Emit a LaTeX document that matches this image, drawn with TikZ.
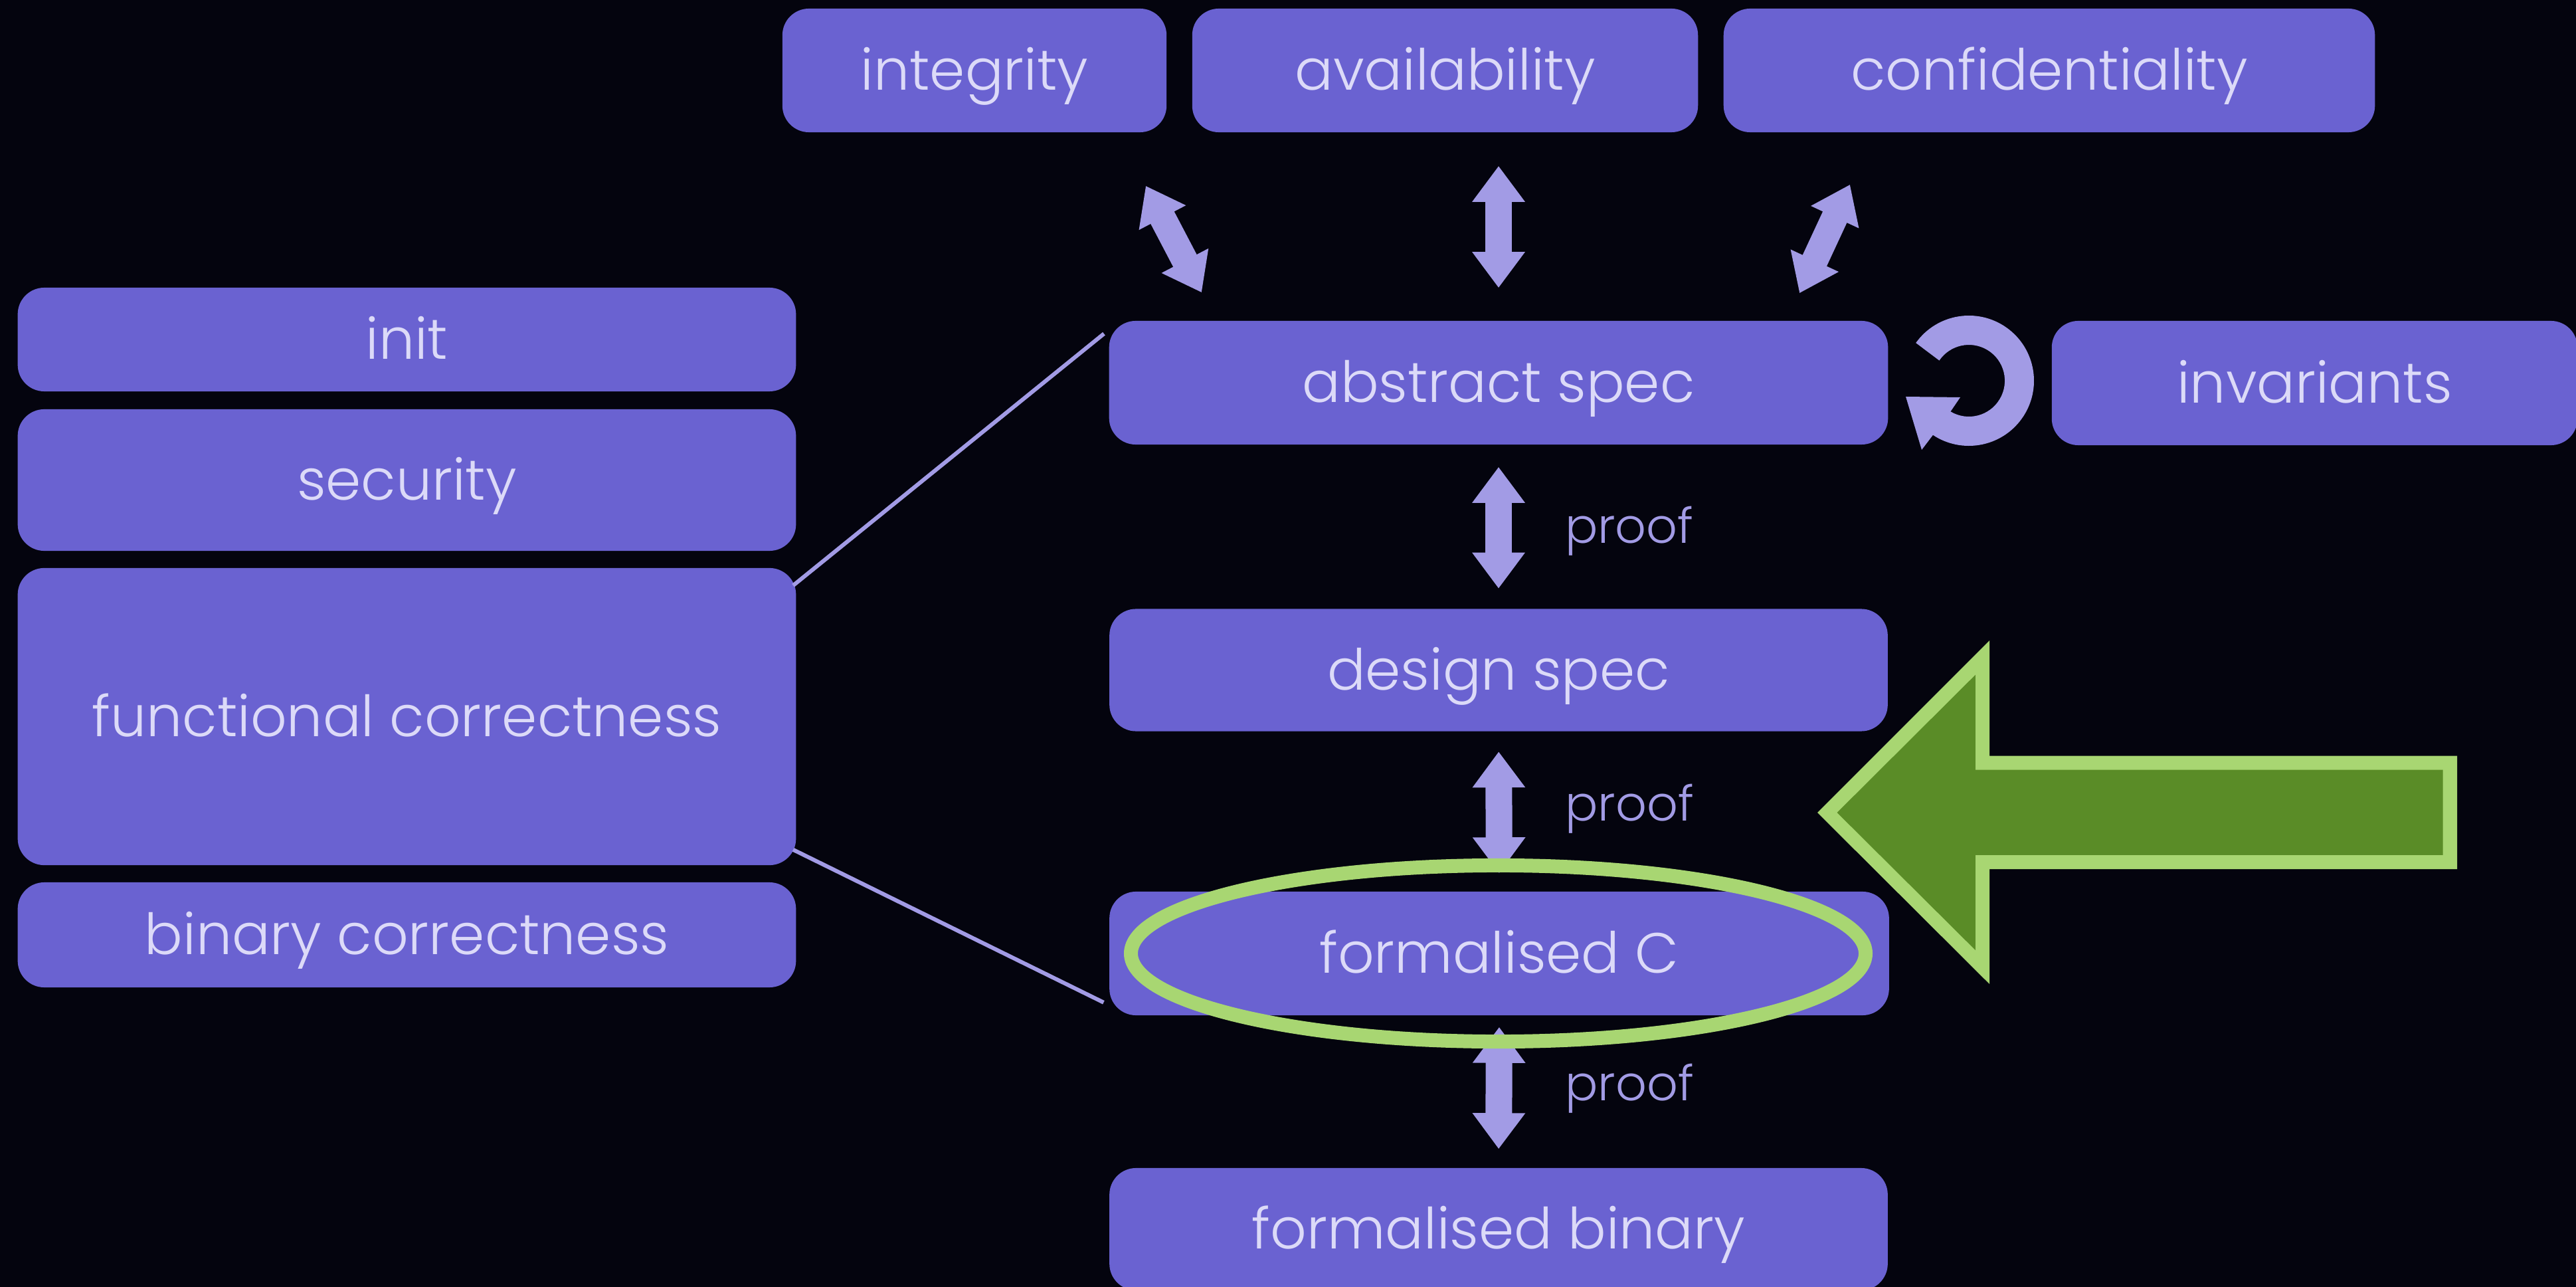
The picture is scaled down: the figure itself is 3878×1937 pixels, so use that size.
\documentclass[tikz,border=0pt]{standalone}
\usepackage{fontspec}
\IfFontExistsTF{Poppins Light}{\setmainfont{Poppins Light}}{\setmainfont{Poppins}}
\usetikzlibrary{arrows.meta,calc,shapes.geometric}
\definecolor{bg}{HTML}{04040E}
\definecolor{boxfill}{HTML}{6A62D1}
\definecolor{boxtext}{HTML}{DCDAF8}
\definecolor{lav}{HTML}{A29BE5}
\definecolor{gdark}{HTML}{5A8C27}
\definecolor{glight}{HTML}{A8D672}
\begin{document}
\begin{tikzpicture}[x=0.01cm,y=-0.01cm,
  box/.style={fill=boxfill, rounded corners=0.4cm, inner sep=0pt, text=boxtext,
    font=\fontsize{24.3}{28}\selectfont, text height=17pt, text depth=0pt},
  dbl/.style={draw=lav, line width=0.40cm,
    {Triangle[length=0.54cm,width=0.76cm]}-{Triangle[length=0.54cm,width=0.76cm]}},
  prooflabel/.style={text=lav, font=\fontsize{20.8}{24}\selectfont, inner sep=0pt, anchor=base west},
  thinline/.style={draw=lav, line width=0.06cm},
  ring/.style={draw=glight, line width=0.21cm}]
\useasboundingbox (0,0) rectangle (3878,1937);
\fill[bg] (0,0) rectangle (3878,1937);

% top row
\node[box, minimum width=5.78cm, minimum height=1.86cm] (integ) at (1467,106) {integrity};
\node[box, minimum width=7.61cm, minimum height=1.86cm] (avail) at (2175.5,106) {availability};
\node[box, minimum width=9.80cm, minimum height=1.86cm] (conf) at (3085,106) {confidentiality};

% left column
\node[box, minimum width=11.71cm, minimum height=1.56cm] (init) at (612.5,511) {init};
\node[box, minimum width=11.71cm, minimum height=2.13cm] (sec) at (612.5,722.5) {security};
\node[box, minimum width=11.71cm, minimum height=4.47cm] (fc) at (612.5,1078.5) {functional correctness};
\node[box, minimum width=11.71cm, minimum height=1.58cm] (bc) at (612.5,1407) {binary correctness};

% centre column
\node[box, minimum width=11.72cm, minimum height=1.86cm] (abs) at (2256,576) {abstract spec};
\node[box, minimum width=11.71cm, minimum height=1.84cm] (des) at (2256,1008.5) {design spec};
\node[box, minimum width=11.73cm, minimum height=1.86cm] (fC) at (2257,1435) {formalised C};
\node[box, minimum width=11.71cm, minimum height=1.84cm] (fbin) at (2256,1850) {formalised binary};

% right
\node[box, minimum width=7.91cm, minimum height=1.87cm] (inv) at (3484.5,576.5) {invariants};

% connectors between the left column and the centre column
\coordinate (l1a) at ($(fc.north east)+(-5,27)$);
\coordinate (l1b) at ($(abs.north west)+(-7,20)$);
\coordinate (l2a) at ($(fc.south east)+(-5,-24)$);
\coordinate (l2b) at ($(fC.south west)+(-8,-20)$);
\draw[thinline] (l1a) -- (l1b);
\draw[thinline] (l2a) -- (l2b);

% arrows from the top row
\coordinate (dl1) at ($(integ.south east)+(-32,80)$);
\coordinate (dl2) at ($(abs.north west)+(140,-42)$);
\coordinate (dr1) at ($(conf.south west)+(191,78)$);
\coordinate (dr2) at ($(abs.north east)+(-134,-41)$);
\draw[dbl] (dl1) -- (dl2);
\draw[dbl] (dr1) -- (dr2);
\draw[dbl, shorten <=0.5cm, shorten >=0.49cm] (avail.south -| abs.north) -- (abs.north);

% proof arrows
\draw[dbl, shorten <=0.33cm, shorten >=0.30cm] (abs.south) -- (des.north)
  node[prooflabel, midway, xshift=0.80cm, yshift=-0.25cm] (p1) {proof};
\draw[dbl, shorten <=0.30cm, shorten >=0.27cm] (des.south) -- (fC.north)
  node[prooflabel, midway, xshift=0.80cm, yshift=-0.145cm] (p2) {proof};
\draw[dbl, shorten <=0.17cm, shorten >=0.28cm] (fC.south) -- (fbin.north)
  node[prooflabel, midway, xshift=0.80cm, yshift=-0.135cm] (p3) {proof};

% circular arrow
\fill[lav] (2884.2,516.1) arc[start angle=-144.5, end angle=123.5, radius=98]
  -- (2893,677) -- (2869,597) -- (2951,598) -- (2936.4,619.4)
  arc[start angle=120.8, end angle=-145.7, radius=54] -- cycle;

% highlight ellipse
\node[ellipse, ring, minimum width=11.054cm, minimum height=2.65cm, inner sep=0pt] (hl) at (2255.5,1435) {};

% big green arrow
\fill[glight] (2736,1223) -- (2995,964) -- (2995,1137.5) -- (3699,1137.5)
  -- (3699,1308) -- (2995,1308) -- (2995,1481) -- cycle;
\fill[gdark] (2765.6,1223) -- (2973.8,1015.7) -- (2973.8,1158.6) -- (3677.7,1158.6)
  -- (3677.7,1286.8) -- (2973.8,1286.8) -- (2973.8,1430) -- cycle;
\end{tikzpicture}
\end{document}
